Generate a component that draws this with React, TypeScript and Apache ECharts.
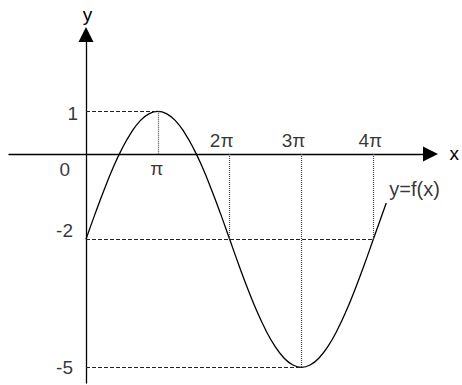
import React, { useEffect, useRef } from "react";
import * as echarts from "echarts";

// x values in multiples of π, y values
const curveX = [
  0, 0.125, 0.25, 0.375, 0.5, 0.625, 0.75, 0.875, 1, 1.125, 1.25, 1.375, 1.5, 1.625, 1.75, 1.875,
  2, 2.125, 2.25, 2.375, 2.5, 2.625, 2.75, 2.875, 3, 3.125, 3.25, 3.375, 3.5, 3.625, 3.75, 3.875,
  4, 4.18,
];
const curveY = [
  -2, -1.41, -0.85, -0.33, 0.12, 0.49, 0.77, 0.94, 1, 0.94, 0.77, 0.49, 0.12, -0.33, -0.85, -1.41,
  -2, -2.59, -3.15, -3.67, -4.12, -4.49, -4.77, -4.94, -5, -4.94, -4.77, -4.49, -4.12, -3.67, -3.15, -2.59,
  -2, -1.15,
];

const xTickValues = [1, 2, 3, 4];
const xTickLabels = ["π", "2π", "3π", "4π"];
const yTickValues = [1, 0, -2, -5];
const yTickLabels = ["1", "0", "-2", "-5"];
const curveName = "y=f(x)";

// guide lines: [x1, y1, x2, y2]
const hGuides = [
  [0, 1, 1, 1],
  [0, -2, 4, -2],
  [0, -5, 3, -5],
];
const vGuides = [
  [1, 1, 1, 0],
  [2, 0, 2, -2],
  [3, 0, 3, -5],
  [4, 0, 4, -2],
];

const FONT = "'Liberation Sans', Arial, Helvetica, sans-serif";

export default function App() {
  const ref = useRef<HTMLDivElement>(null);
  useEffect(() => {
    if (!ref.current) return;
    const chart = echarts.init(ref.current, undefined, { renderer: "svg" });
    const xOffsets = [[-1, 0], [-8, 1], [-8, 1], [-3, 1]];
    const xPos = ["bottom", "top", "top", "top"];
    const yOffsets = [[0, 2], [-3, 16], [0, -9], [0, 0]];
    const yDist = [8, 13, 13, 13];
    const labelData: any[] = [];
    xTickValues.forEach((v, i) => {
      labelData.push({
        value: [v, 0],
        label: {
          show: true,
          formatter: xTickLabels[i],
          position: xPos[i],
          distance: 5,
          offset: xOffsets[i],
        },
      });
    });
    yTickValues.forEach((v, i) => {
      labelData.push({
        value: [0, v],
        label: {
          show: true,
          formatter: yTickLabels[i],
          position: "left",
          distance: yDist[i],
          offset: yOffsets[i],
        },
      });
    });
    const last = curveX.length - 1;
    labelData.push({
      value: [curveX[last], curveY[last]],
      label: {
        show: true,
        formatter: curveName,
        position: "right",
        distance: 3,
        offset: [0, -14],
        fontSize: 20,
      },
    });

    const guideData: any[] = [];
    hGuides.forEach((g) => {
      guideData.push([
        { coord: [g[0], g[1]], lineStyle: { type: [4, 2], color: "#222", width: 1 } },
        { coord: [g[2], g[3]] },
      ]);
    });
    vGuides.forEach((g) => {
      guideData.push([
        { coord: [g[0], g[1]], lineStyle: { type: [1, 1], color: "#444", width: 1.2 } },
        { coord: [g[2], g[3]] },
      ]);
    });

    const axisLine = (size: number[]) => ({
      show: true,
      onZero: true,
      symbol: ["none", "triangle"],
      symbolSize: size,
      lineStyle: { color: "#000", width: 1.3 },
    });

    chart.setOption({
      animation: false,
      backgroundColor: "#fff",
      grid: { left: 9, right: 31.5, top: 34.5, bottom: 2, containLabel: false },
      xAxis: {
        type: "value",
        min: -1.072,
        max: 4.796,
        axisLine: axisLine([15, 15]),
        axisTick: { show: false },
        axisLabel: { show: false },
        splitLine: { show: false },
        name: "x",
        nameLocation: "end",
        nameGap: 19,
        nameTextStyle: { fontFamily: FONT, fontSize: 19, color: "#000", padding: [0, 0, 5, 0] },
      },
      yAxis: {
        type: "value",
        min: -5.367,
        max: 2.8,
        axisLine: axisLine([15, 15]),
        axisTick: { show: false },
        axisLabel: { show: false },
        splitLine: { show: false },
        name: "y",
        nameLocation: "end",
        nameGap: 11,
        nameTextStyle: { fontFamily: FONT, fontSize: 19, color: "#000", padding: [0, 0, 0, 3] },
      },
      series: [
        {
          type: "line",
          data: curveX.map((x, i) => [x, curveY[i]]),
          smooth: true,
          showSymbol: false,
          lineStyle: { color: "#000", width: 1.3 },
          silent: true,
          z: 3,
          markLine: {
            silent: true,
            symbol: ["none", "none"],
            label: { show: false },
            data: guideData,
          },
        },
        {
          type: "scatter",
          data: labelData,
          symbolSize: 0,
          silent: true,
          label: { fontFamily: FONT, fontSize: 19, color: "#000" },
        },
      ],
    });
    return () => chart.dispose();
  }, []);
  return (
    <div
      ref={ref}
      style={{ position: "absolute", left: 0, top: 0, width: 462, height: 385 }}
    />
  );
}
